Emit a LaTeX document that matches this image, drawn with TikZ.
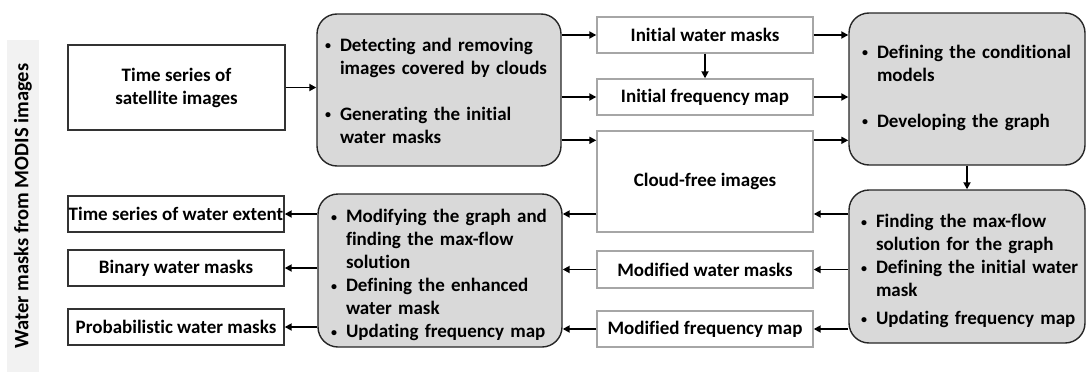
\documentclass[tikz,border=0pt]{standalone}
\usepackage{fontspec}
\setmainfont{Carlito}[Ligatures=NoCommon]
\usetikzlibrary{arrows.meta,calc,positioning}
\newlength\bleft
\tikzset{flow/.style={-{Triangle[length=7pt,width=7pt]}, line width=1.8pt},
  proc/.style={draw=black!85, line width=1.4pt, fill=black!15, rounded corners=20pt, align=left, inner sep=0pt},
  dat/.style={draw=black!35, line width=1.4pt, fill=white, align=center, minimum width=216pt, minimum height=36pt, inner sep=0pt},
  outb/.style={draw=black!80, line width=1.4pt, align=center, minimum width=216pt, minimum height=36pt, inner sep=0pt}}
\newcommand{\bpt}[1]{\par\raggedright\hyphenpenalty=10000\leftskip=\bleft\hangindent=15pt\hangafter=1\noindent
  \hbox to 15pt{\raisebox{1.5pt}{\fontsize{12}{12}\selectfont\textbullet}\hfil}#1\par}

\begin{document}
\begin{tikzpicture}[x=1pt, y=-1pt, font=\fontsize{19}{23}\selectfont\bfseries]
  \useasboundingbox (0,0) rectangle (1086,372);
  \node[fill=black!5, rotate=90, minimum width=332pt, minimum height=32pt, inner sep=0pt,
    font=\fontsize{20.5}{24}\selectfont\bfseries] (side) at (23,206) {Water masks from MODIS images};
  % input and outputs
  \node[outb, minimum width=217pt, minimum height=85pt] (src) at (176.5,87.5) {Time series of\\satellite images};
  \node[outb] (outext) at (176,214) {Time series of water extent};
  \node[outb] (outbin) at (176,268) {Binary water masks};
  \node[outb] (outprob) at (176,327) {Probabilistic water masks};
  % processing steps
  \node[proc, minimum width=244pt, minimum height=152pt, text width=228pt] (cloudrm) at (439,90)
    {\vspace*{-8pt}\bpt{Detecting and removing\newline images covered by clouds}\vspace{23pt}\bpt{Generating the initial\newline water masks}};
  \node[proc, minimum width=244pt, minimum height=153pt, text width=218pt] (refine) at (440,270.5)
    {\bpt{Modifying the graph and\newline finding the max-flow\newline solution}\bpt{Defining the enhanced\newline water mask}\bpt{Updating frequency map}};
  \node[proc, minimum width=236pt, minimum height=152pt, text width=210pt] (graphdef) at (967,89)
    {\vspace*{-12pt}\bpt{Defining the conditional\newline models}\vspace{23pt}\bpt{Developing the graph}};
  \node[proc, minimum width=236pt, minimum height=153pt, text width=232pt,
    execute at begin node={\setlength\bleft{10pt}}] (maxflow) at (967,266.5)
    {\bpt{Finding the max-flow\newline solution for the graph}\bpt{Defining the initial water\newline mask}\vspace{5pt}\bpt{Updating frequency map}};
  % intermediate data
  \node[dat] (initmask) at (705,35) {Initial water masks};
  \node[dat] (initfreq) at (705,97) {Initial frequency map};
  \node[dat, minimum height=101pt] (cloudfree) at (705,181.5) {Cloud-free images};
  \node[dat, minimum height=37pt] (modmask) at (705,269.5) {Modified water masks};
  \node[dat] (modfreq) at (705,329) {Modified frequency map};
  \coordinate (cfrow) at ([yshift=-10pt]cloudfree.north);
  % forward pass
  \draw[flow] (src.east) -- (src.east -| cloudrm.west);
  \draw[flow] (cloudrm.east |- initmask) -- (initmask.west);
  \draw[flow] (cloudrm.east |- initfreq) -- (initfreq.west);
  \draw[flow] (cloudrm.east |- cfrow) -- (cloudfree.west |- cfrow);
  \draw[flow] (initmask) -- (initfreq);
  \draw[flow] (initmask.east) -- (initmask.east -| graphdef.west);
  \draw[flow] (initfreq.east) -- (initfreq.east -| graphdef.west);
  \draw[flow] (cloudfree.east |- cfrow) -- (graphdef.west |- cfrow);
  \draw[flow] (graphdef) -- (maxflow);
  % backward pass
  \draw[flow] (maxflow.west |- outext) -- (cloudfree.east |- outext);
  \draw[flow] (maxflow.west |- modmask) -- (modmask.east);
  \draw[flow] (maxflow.west |- modfreq) -- (modfreq.east);
  \draw[flow] (cloudfree.west |- outext) -- (refine.east |- outext);
  \draw[flow] (modmask.west) -- (modmask.west -| refine.east);
  \draw[flow] (modfreq.west) -- (modfreq.west -| refine.east);
  \draw[flow] (refine.west |- outext) -- (outext.east);
  \draw[flow] (refine.west |- outbin) -- (outbin.east);
  \draw[flow] (refine.west |- outprob) -- (outprob.east);
\end{tikzpicture}
\end{document}
